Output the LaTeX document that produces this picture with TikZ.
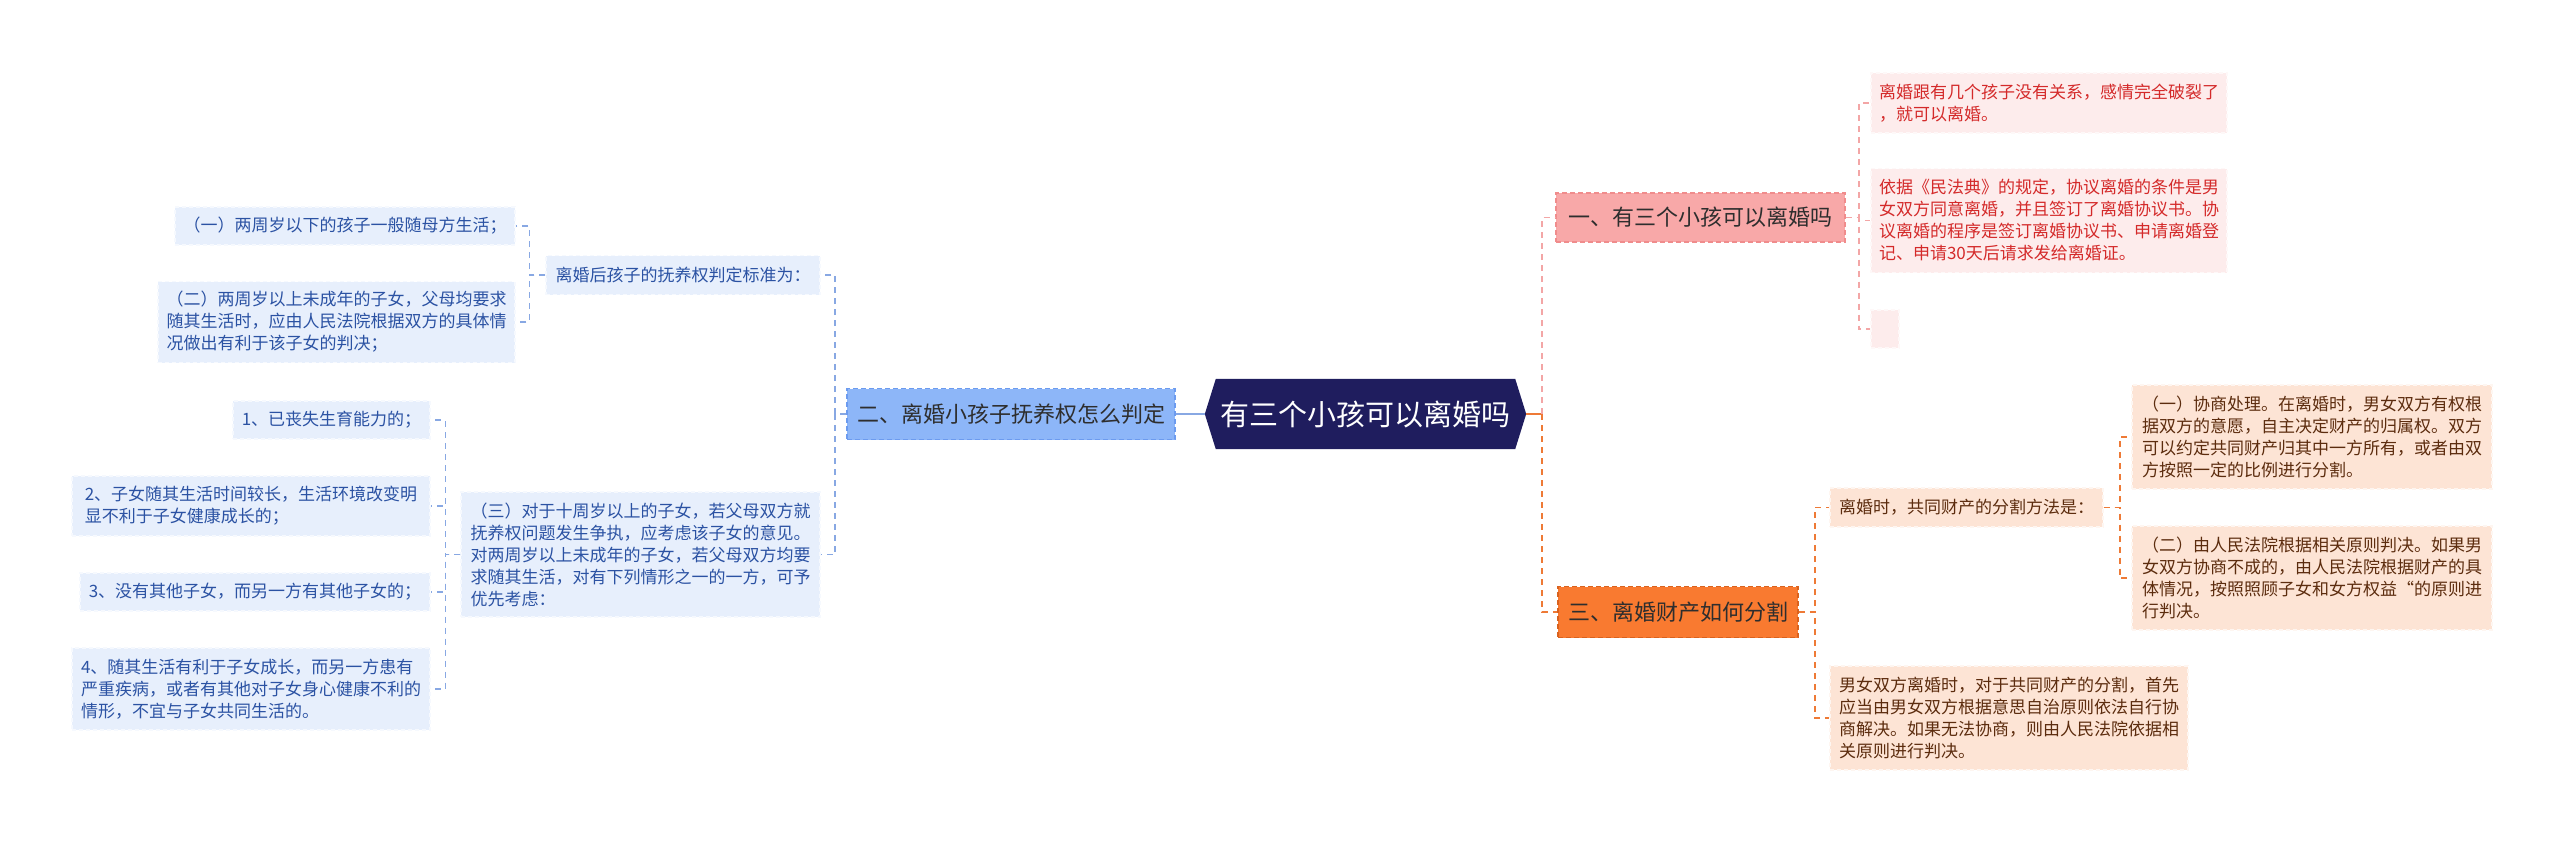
\documentclass[tikz,border=0pt]{standalone}
\usepackage{fontspec}
\setmainfont{Noto Sans CJK SC}
\usetikzlibrary{backgrounds}
\definecolor{navy}{HTML}{1F1D5E}
\definecolor{bfill}{HTML}{E7EFFC}
\definecolor{bedge}{HTML}{F6F9FE}
\definecolor{btext}{HTML}{2B52A3}
\definecolor{bbr}{HTML}{8DB6F8}
\definecolor{bbredge}{HTML}{6C9BEF}
\definecolor{bline}{HTML}{88A8E3}
\definecolor{pfill}{HTML}{FDECEC}
\definecolor{pedge}{HTML}{FEF8F8}
\definecolor{ptext}{HTML}{D42A2A}
\definecolor{pbr}{HTML}{F8A8A8}
\definecolor{pbredge}{HTML}{F08C8C}
\definecolor{pline}{HTML}{F3A6A6}
\definecolor{ofill}{HTML}{FDE4D5}
\definecolor{oedge}{HTML}{FEF6F1}
\definecolor{otext}{HTML}{5C2C0E}
\definecolor{obr}{HTML}{F97A30}
\definecolor{obredge}{HTML}{D9621E}
\definecolor{oline}{HTML}{EE7A36}
\definecolor{darktext}{HTML}{2E2E2E}
\begin{document}
\begin{tikzpicture}[x=1pt,y=-1pt,
  leafbox/.style={inner sep=0pt, align=left, line width=1.2pt, dash pattern=on 4pt off 3pt,
    font=\fontsize{17}{22}\selectfont},
  bleaf/.style={leafbox, fill=bfill, draw=bedge, text=btext},
  pleaf/.style={leafbox, fill=pfill, draw=pedge, text=ptext},
  oleaf/.style={leafbox, fill=ofill, draw=oedge, text=otext},
  branchbox/.style={inner sep=0pt, align=center, line width=1.5pt, dash pattern=on 5pt off 3pt,
    font=\fontsize{22}{26}\selectfont, text=darktext},
  conn/.style={line width=1.8pt, dash pattern=on 6pt off 5pt},
  bconn/.style={conn, draw=bline},
  pconn/.style={conn, draw=pline},
  oconn/.style={conn, draw=oline}
]
\useasboundingbox (0,0) rectangle (2560,843);

% central
\node[inner sep=0pt, minimum width=321pt, minimum height=70pt, text=white,
  font=\fontsize{29}{34}\selectfont] (C) at (1365.5,414) {有三个小孩可以离婚吗};
\begin{scope}[on background layer]
\fill[navy] (C.west) -- ([xshift=11pt]C.north west) -- ([xshift=-11pt]C.north east)
  -- (C.east) -- ([xshift=-11pt]C.south east) -- ([xshift=11pt]C.south west) -- cycle;
\end{scope}

% branches
\node[branchbox, fill=bbr, draw=bbredge, minimum width=328pt, minimum height=51pt] (LB) at (1011,414) {二、离婚小孩子抚养权怎么判定};
\node[branchbox, fill=pbr, draw=pbredge, minimum width=289pt, minimum height=49pt] (R1) at (1700.5,217.5) {一、有三个小孩可以离婚吗};
\node[branchbox, fill=obr, draw=obredge, minimum width=240pt, minimum height=51pt] (R3) at (1678,612) {三、离婚财产如何分割};

% pink leaves
\node[pleaf, minimum width=356pt, minimum height=60pt] (P1) at (2049,103) {离婚跟有几个孩子没有关系，感情完全破裂了\\，就可以离婚。};
\node[pleaf, minimum width=356pt, minimum height=104pt] (P2) at (2049,220.5) {依据《民法典》的规定，协议离婚的条件是男\\女双方同意离婚，并且签订了离婚协议书。协\\议离婚的程序是签订离婚协议书、申请离婚登\\记、申请30天后请求发给离婚证。};
\node[pleaf, minimum width=28pt, minimum height=38pt] (P3) at (1885,329) {};

% orange leaves
\node[oleaf, minimum width=273pt, minimum height=39pt] (O1) at (1966.5,507.5) {离婚时，共同财产的分割方法是：};
\node[oleaf, minimum width=360pt, minimum height=104pt] (O1a) at (2312,437) {（一）协商处理。在离婚时，男女双方有权根\\据双方的意愿，自主决定财产的归属权。双方\\可以约定共同财产归其中一方所有，或者由双\\方按照一定的比例进行分割。};
\node[oleaf, minimum width=360pt, minimum height=104pt] (O1b) at (2312,578) {（二）由人民法院根据相关原则判决。如果男\\女双方协商不成的，由人民法院根据财产的具\\体情况，按照照顾子女和女方权益“的原则进\\行判决。};
\node[oleaf, minimum width=358pt, minimum height=104pt] (O2) at (2009,718) {男女双方离婚时，对于共同财产的分割，首先\\应当由男女双方根据意思自治原则依法自行协\\商解决。如果无法协商，则由人民法院依据相\\关原则进行判决。};

% blue leaves
\node[bleaf, minimum width=274pt, minimum height=39pt] (B1) at (683,275) {离婚后孩子的抚养权判定标准为：};
\node[bleaf, minimum width=340pt, minimum height=38pt] (B1a) at (345,226) {（一）两周岁以下的孩子一般随母方生活；};
\node[bleaf, minimum width=357pt, minimum height=81pt] (B1b) at (336.5,322) {（二）两周岁以上未成年的子女，父母均要求\\随其生活时，应由人民法院根据双方的具体情\\况做出有利于该子女的判决；};
\node[bleaf, minimum width=359pt, minimum height=125pt] (B2) at (640.5,554.5) {（三）对于十周岁以上的子女，若父母双方就\\抚养权问题发生争执，应考虑该子女的意见。\\对两周岁以上未成年的子女，若父母双方均要\\求随其生活，对有下列情形之一的一方，可予\\优先考虑：};
\node[bleaf, minimum width=197pt, minimum height=38pt] (B2a) at (331.5,420) {1、已丧失生育能力的；};
\node[bleaf, minimum width=358pt, minimum height=60pt] (B2b) at (251,506) {2、子女随其生活时间较长，生活环境改变明\\显不利于子女健康成长的；};
\node[bleaf, minimum width=350pt, minimum height=38pt] (B2c) at (255,592) {3、没有其他子女，而另一方有其他子女的；};
\node[bleaf, minimum width=358pt, minimum height=82pt] (B2d) at (251,689) {4、随其生活有利于子女成长，而另一方患有\\严重疾病，或者有其他对子女身心健康不利的\\情形，不宜与子女共同生活的。};

% connectors: center
\draw[line width=2pt, bline] (C.west) -- (LB.east);
\draw[line width=2pt, oline] (C.east) -- ++(16,0) coordinate (cr);
\draw[pconn] (cr) |- (R1.west);
\draw[oconn] (cr) |- (R3.west);

% left side
\draw[bconn] (LB.west) -- ++(-11,0) |- (B1.east);
\draw[bconn] (LB.west) -- ++(-11,0) |- (B2.east);
\draw[bconn] (B1.west) -- ++(-16,0) |- (B1a.east);
\draw[bconn] (B1.west) -- ++(-16,0) |- (B1b.east);
\draw[bconn] (B2.west) -- ++(-15,0) |- (B2a.east);
\draw[bconn] (B2.west) -- ++(-15,0) |- (B2b.east);
\draw[bconn] (B2.west) -- ++(-15,0) |- (B2c.east);
\draw[bconn] (B2.west) -- ++(-15,0) |- (B2d.east);

% right side
\draw[pconn] (R1.east) -- ++(13,0) |- (P1.west);
\draw[pconn] (R1.east) -- ++(13,0) |- (P2.west);
\draw[pconn] (R1.east) -- ++(13,0) |- (P3.west);
\draw[oconn] (R3.east) -- ++(16,0) |- (O1.west);
\draw[oconn] (R3.east) -- ++(16,0) |- (O2.west);
\draw[oconn] (O1.east) -- ++(16,0) |- (O1a.west);
\draw[oconn] (O1.east) -- ++(16,0) |- (O1b.west);
\end{tikzpicture}
\end{document}
